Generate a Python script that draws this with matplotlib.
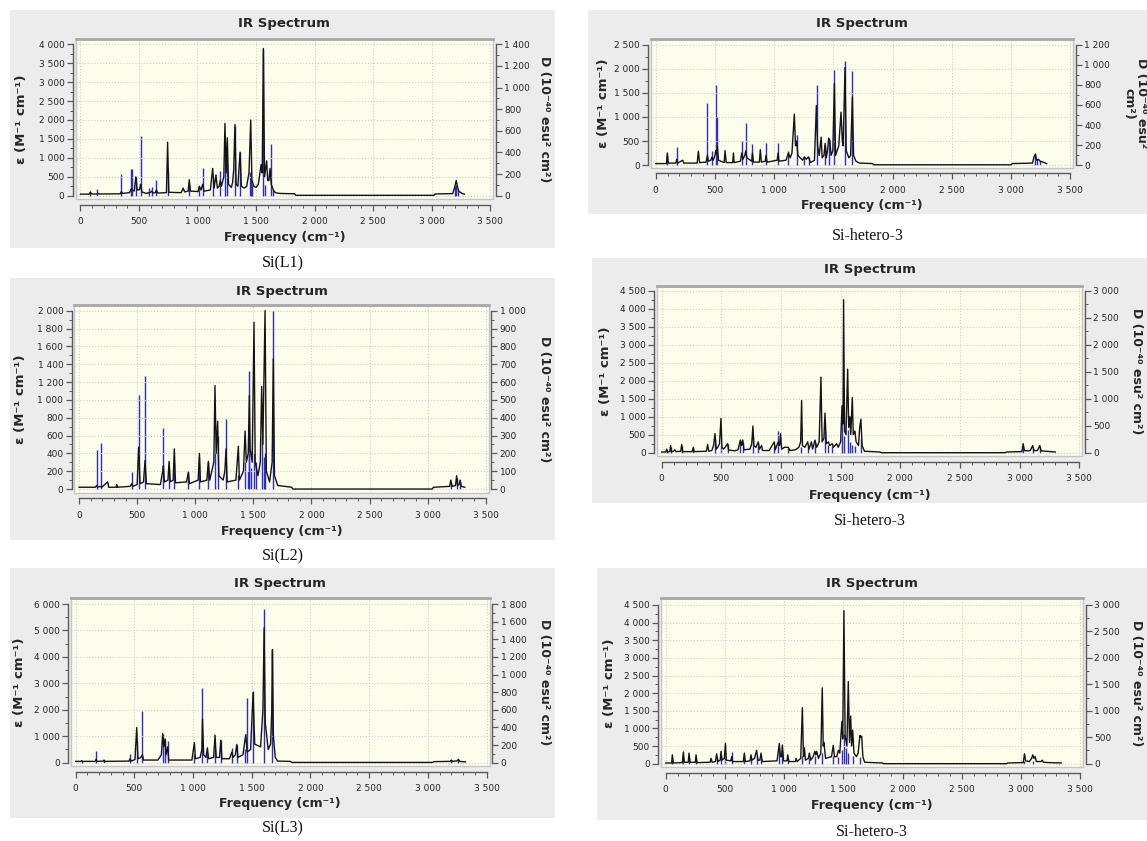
import matplotlib
matplotlib.use("Agg")
import matplotlib.pyplot as plt
from matplotlib.patches import Rectangle
from matplotlib.ticker import MultipleLocator, FuncFormatter

W, H = 1147, 841

# ---- values ----
# broadened curve vertices: (frequency cm-1, epsilon)
# sticks: (frequency cm-1, D in 1e-40 esu^2 cm^2)

l1_curve = [(0, 40), (75, 40), (86, 100), (95, 45), (140, 45), (150, 60), (160, 45), (340, 50),
            (351, 110), (360, 60), (420, 80), (435, 180), (445, 150), (460, 120), (474, 500),
            (485, 150), (505, 160), (514, 300), (525, 100), (560, 60), (600, 90), (610, 120),
            (620, 70), (640, 80), (650, 150), (660, 70), (735, 80), (745, 1410), (755, 90),
            (860, 80), (878, 200), (890, 100), (920, 120), (930, 420), (940, 120), (1005, 110),
            (1016, 250), (1030, 150), (1044, 300), (1055, 120), (1110, 150), (1130, 720),
            (1142, 200), (1158, 550), (1170, 200), (1185, 250), (1195, 400), (1205, 250),
            (1225, 500), (1235, 1910), (1245, 600), (1255, 1530), (1265, 300), (1290, 220),
            (1300, 350), (1310, 700), (1320, 1880), (1330, 300), (1345, 250), (1364, 1150),
            (1375, 250), (1400, 200), (1420, 250), (1440, 600), (1455, 2000), (1465, 400),
            (1480, 250), (1500, 220), (1520, 300), (1543, 820), (1553, 600), (1563, 3890),
            (1573, 500), (1591, 920), (1600, 400), (1610, 400), (1620, 720), (1630, 300),
            (1648, 150), (1665, 80), (1700, 60), (1830, 50), (1840, 10), (3020, 10), (3030, 45),
            (3180, 55), (3195, 200), (3210, 400), (3220, 250), (3230, 120), (3260, 60), (3280, 40)]
l1_sticks = [(86, 35), (143, 65), (351, 200), (430, 250), (445, 250), (474, 175), (514, 555),
             (582, 70), (608, 80), (650, 145), (745, 230), (930, 100), (1016, 80), (1044, 260),
             (1130, 150), (1195, 225), (1235, 500), (1255, 300), (1320, 640), (1364, 400),
             (1445, 215), (1455, 140), (1460, 150), (1470, 100), (1563, 1360), (1580, 100),
             (1628, 480), (1648, 50), (3200, 90), (3212, 100), (3222, 60)]

h1a_curve = [(0, 30), (90, 30), (98, 250), (106, 40), (170, 40), (177, 120), (185, 40), (228, 100),
             (236, 40), (350, 40), (360, 290), (370, 50), (425, 60), (436, 200), (445, 80),
             (465, 100), (473, 160), (485, 100), (500, 200), (506, 300), (513, 230), (520, 400),
             (530, 100), (578, 50), (585, 300), (595, 50), (650, 50), (656, 250), (662, 50),
             (715, 80), (726, 250), (736, 120), (752, 200), (760, 300), (770, 150), (810, 80),
             (816, 250), (825, 60), (875, 60), (883, 320), (892, 60), (925, 80), (931, 200),
             (940, 60), (1025, 100), (1033, 250), (1040, 80), (1100, 100), (1120, 250),
             (1135, 150), (1150, 250), (1170, 1060), (1180, 400), (1190, 500), (1200, 200),
             (1240, 100), (1255, 170), (1270, 120), (1290, 170), (1305, 50), (1340, 100),
             (1356, 1240), (1366, 400), (1380, 200), (1396, 580), (1405, 150), (1420, 200),
             (1430, 450), (1440, 150), (1450, 300), (1460, 560), (1470, 500), (1480, 200),
             (1495, 300), (1508, 1700), (1518, 200), (1545, 400), (1564, 1100), (1575, 500),
             (1582, 400), (1598, 2030), (1608, 300), (1630, 150), (1645, 200), (1660, 1420),
             (1670, 200), (1690, 80), (1720, 40), (1830, 30), (1840, 5), (3000, 5), (3010, 30),
             (3180, 40), (3195, 180), (3205, 230), (3215, 100), (3230, 120), (3245, 80),
             (3270, 60), (3300, 30)]
h1a_sticks = [(98, 100), (177, 178), (436, 617), (473, 145), (506, 800), (520, 480), (726, 240),
              (760, 418), (816, 206), (931, 216), (1033, 216), (1120, 144), (1190, 302),
              (1255, 80), (1290, 80), (1365, 797), (1430, 200), (1465, 270), (1508, 950),
              (1598, 1037), (1660, 940), (3200, 100), (3215, 60), (3240, 40)]

l2_curve = [(0, 20), (140, 20), (152, 40), (160, 20), (182, 30), (195, 20), (247, 80), (255, 20),
            (320, 20), (324, 50), (330, 20), (440, 30), (453, 60), (462, 30), (500, 50),
            (513, 470), (525, 60), (555, 80), (568, 320), (580, 60), (700, 50), (720, 200),
            (726, 260), (735, 80), (765, 100), (775, 310), (785, 80), (810, 100), (820, 450),
            (830, 70), (925, 80), (941, 190), (950, 60), (1025, 100), (1036, 400), (1045, 80),
            (1100, 100), (1113, 310), (1125, 100), (1160, 300), (1170, 1160), (1180, 400),
            (1193, 760), (1203, 150), (1240, 100), (1255, 200), (1265, 450), (1275, 80),
            (1350, 100), (1371, 480), (1380, 100), (1415, 200), (1429, 650), (1440, 300),
            (1456, 400), (1466, 1050), (1472, 460), (1490, 300), (1506, 1870), (1516, 300),
            (1540, 150), (1560, 300), (1572, 1150), (1582, 500), (1601, 2000), (1612, 200),
            (1640, 80), (1662, 300), (1672, 1460), (1682, 150), (1710, 40), (1830, 20),
            (1840, 0), (3040, 0), (3050, 20), (3190, 30), (3200, 100), (3210, 30), (3240, 40),
            (3250, 150), (3258, 40), (3270, 50), (3280, 100), (3290, 30), (3320, 20)]
l2_sticks = [(152, 220), (186, 260), (453, 95), (513, 525), (568, 635), (726, 345), (775, 120),
             (820, 150), (941, 95), (1036, 180), (1113, 150), (1170, 200), (1193, 300),
             (1265, 390), (1371, 80), (1429, 150), (1450, 100), (1460, 300), (1466, 660),
             (1480, 120), (1506, 200), (1520, 150), (1572, 300), (1590, 180), (1601, 200),
             (1672, 1000), (3200, 40), (3250, 60), (3280, 40)]

h1b_curve = [(0, 20), (35, 20), (42, 100), (50, 20), (68, 30), (75, 200), (82, 30), (100, 40),
             (110, 80), (120, 30), (160, 40), (168, 230), (176, 30), (255, 30), (265, 150),
             (272, 30), (375, 40), (385, 230), (395, 40), (420, 60), (435, 200), (447, 530),
             (457, 100), (470, 150), (485, 250), (497, 950), (505, 150), (520, 100), (553, 250),
             (560, 80), (610, 50), (640, 80), (660, 350), (670, 200), (680, 350), (690, 80),
             (740, 100), (755, 250), (765, 740), (772, 200), (790, 150), (810, 300), (820, 100),
             (838, 200), (845, 60), (900, 60), (944, 300), (952, 80), (970, 250), (978, 300),
             (988, 200), (997, 530), (1005, 100), (1030, 150), (1061, 150), (1075, 60),
             (1120, 80), (1150, 150), (1165, 300), (1173, 1450), (1180, 200), (1200, 150),
             (1224, 300), (1235, 100), (1255, 300), (1265, 100), (1285, 350), (1300, 150),
             (1320, 300), (1335, 2100), (1345, 300), (1360, 400), (1369, 1100), (1380, 250),
             (1397, 300), (1410, 200), (1430, 250), (1440, 150), (1466, 250), (1480, 150),
             (1500, 300), (1512, 1300), (1520, 800), (1525, 4250), (1533, 600), (1545, 500),
             (1559, 2320), (1568, 700), (1578, 1000), (1585, 500), (1598, 1530), (1606, 500),
             (1620, 600), (1630, 300), (1650, 200), (1660, 700), (1670, 930), (1680, 200),
             (1700, 40), (1830, 20), (1840, 0), (2880, 0), (2890, 20), (3020, 30), (3030, 250),
             (3040, 60), (3070, 50), (3090, 60), (3110, 200), (3120, 60), (3150, 60), (3170, 200),
             (3180, 50), (3220, 40), (3300, 20)]
h1b_sticks = [(42, 50), (75, 100), (168, 120), (265, 80), (447, 250), (497, 150), (553, 160),
              (660, 230), (680, 200), (765, 300), (810, 150), (944, 120), (978, 400), (1061, 80),
              (1165, 100), (1224, 130), (1285, 180), (1369, 400), (1397, 150), (1430, 120),
              (1512, 870), (1525, 300), (1559, 420), (1578, 200), (1598, 150), (1620, 130),
              (1670, 250), (3030, 100), (3110, 80), (3170, 80)]

l3_curve = [(0, 50), (45, 50), (51, 80), (58, 50), (165, 50), (173, 120), (182, 50), (235, 60),
            (241, 100), (248, 50), (455, 60), (463, 150), (472, 60), (505, 120), (520, 1330),
            (530, 150), (555, 200), (568, 300), (578, 100), (700, 100), (730, 300), (741, 1100),
            (750, 600), (761, 900), (770, 300), (784, 600), (792, 100), (990, 100), (1011, 760),
            (1020, 150), (1060, 200), (1075, 500), (1080, 1650), (1090, 300), (1110, 200),
            (1122, 560), (1132, 150), (1175, 200), (1187, 1040), (1197, 200), (1225, 200),
            (1236, 850), (1245, 150), (1310, 150), (1330, 400), (1340, 200), (1360, 300),
            (1372, 690), (1382, 200), (1425, 300), (1440, 800), (1449, 1060), (1460, 400),
            (1490, 500), (1511, 2650), (1525, 700), (1575, 600), (1595, 2000), (1605, 5100),
            (1615, 1500), (1640, 500), (1660, 700), (1670, 1900), (1676, 4280), (1684, 1000),
            (1700, 200), (1720, 60), (1830, 50), (1840, 10), (3040, 10), (3050, 40), (3190, 50),
            (3200, 100), (3210, 50), (3250, 70), (3260, 130), (3270, 50), (3320, 30)]
l3_sticks = [(51, 20), (173, 132), (241, 25), (463, 100), (520, 250), (568, 582), (741, 330),
             (761, 270), (784, 250), (1011, 100), (1080, 850), (1122, 100), (1187, 150),
             (1236, 255), (1330, 165), (1372, 200), (1440, 150), (1463, 738), (1511, 810),
             (1605, 1740), (1676, 1250), (3200, 30), (3260, 40)]

h1c_curve = [(0, 20), (50, 20), (56, 250), (64, 20), (140, 30), (149, 330), (157, 40), (190, 40),
             (197, 300), (205, 40), (250, 40), (256, 250), (264, 30), (375, 40), (383, 150),
             (392, 40), (420, 60), (430, 280), (440, 60), (460, 100), (467, 350), (475, 100),
             (495, 150), (504, 580), (512, 100), (550, 80), (557, 200), (565, 60), (655, 60),
             (664, 300), (672, 60), (712, 80), (720, 250), (728, 100), (750, 150), (768, 380),
             (778, 100), (795, 100), (805, 300), (815, 60), (940, 80), (959, 570), (968, 200),
             (978, 200), (985, 530), (995, 80), (1025, 80), (1030, 250), (1040, 60), (1095, 60),
             (1100, 150), (1110, 60), (1140, 150), (1154, 1590), (1163, 200), (1171, 450),
             (1180, 100), (1205, 150), (1213, 300), (1225, 100), (1245, 200), (1260, 350),
             (1268, 250), (1275, 350), (1290, 150), (1310, 300), (1322, 2150), (1330, 500),
             (1336, 600), (1350, 150), (1400, 200), (1415, 520), (1425, 200), (1445, 200),
             (1458, 380), (1470, 300), (1488, 1200), (1495, 700), (1505, 4340), (1515, 800),
             (1530, 500), (1542, 2330), (1552, 600), (1562, 1350), (1570, 500), (1579, 950),
             (1590, 300), (1610, 200), (1625, 300), (1640, 800), (1648, 750), (1655, 780),
             (1665, 200), (1680, 40), (1830, 20), (1840, 0), (2880, 0), (2890, 20), (3020, 30),
             (3030, 280), (3040, 80), (3070, 60), (3090, 150), (3100, 250), (3110, 150),
             (3120, 200), (3130, 60), (3170, 60), (3180, 100), (3190, 40), (3240, 30), (3340, 20)]
h1c_sticks = [(56, 80), (149, 120), (197, 100), (256, 80), (430, 100), (467, 150), (504, 150),
              (557, 230), (664, 80), (720, 100), (768, 150), (805, 100), (959, 300), (985, 250),
              (1030, 80), (1154, 150), (1213, 100), (1260, 150), (1322, 200), (1415, 150),
              (1458, 130), (1488, 250), (1505, 570), (1520, 300), (1542, 200), (1579, 150),
              (1640, 120), (3030, 60), (3100, 60)]

captions = ["Si(L1)", "Si-hetero-3", "Si(L2)", "Si-hetero-3", "Si(L3)", "Si-hetero-3"]
curves = [l1_curve, h1a_curve, l2_curve, h1b_curve, l3_curve, h1c_curve]
sticks = [l1_sticks, h1a_sticks, l2_sticks, h1b_sticks, l3_sticks, h1c_sticks]
# left axis: top tick, major step ; right axis: top tick, major step
eps_axis = [(4000, 500), (2500, 500), (2000, 200), (4500, 500), (6000, 1000), (4500, 500)]
d_axis = [(1400, 200), (1200, 200), (1000, 100), (3000, 500), (1800, 200), (3000, 500)]

# ---- layout (pixels) ----
layout = [
    dict(bg=(10, 10, 555, 248), frame=(75.7, 39, 493.1, 199.1), ylim=(-90, 4140),
         title=24, xlab=238, ylab=22, dlab=545, cap=263),
    dict(bg=(588, 10, 1147, 214), frame=(651, 39.2, 1073.3, 167.9), ylim=(-60, 2620),
         title=24, xlab=206, ylab=604, dlab=1135, cap=236),
    dict(bg=(10, 278, 555, 540), frame=(74.4, 304.9, 488.6, 492.6), ylim=(-40, 2065),
         title=291, xlab=532, ylab=21, dlab=545, cap=556),
    dict(bg=(592, 258, 1147, 503), frame=(656.9, 286, 1082.2, 456.3), ylim=(-100, 4630),
         title=270, xlab=495, ylab=605, dlab=1137, cap=521),
    dict(bg=(10, 568, 555, 818), frame=(71, 598.2, 489.5, 766.4), ylim=(-140, 6220),
         title=584, xlab=803, ylab=20, dlab=545, cap=828),
    dict(bg=(597, 568, 1147, 820), frame=(661, 598.3, 1083.1, 767.2), ylim=(-100, 4690),
         title=584, xlab=805, ylab=610, dlab=1137, cap=832),
]

BG = "#ececec"
PLOT_BG = "#fdfdec"
AXC = "#5a5a5a"
TXT = "#262626"
BLACK = "#141414"
BLUE = "#2b2bcf"


def spaced(v, pos):
    return f"{v:,.0f}".replace(",", " ")


def fx(px):
    return px / W


def fy(py):
    return 1 - py / H


fig = plt.figure(figsize=(W / 100, H / 100), dpi=100)
fig.patch.set_facecolor("white")

for i, lay in enumerate(layout):
    bl, bt, br, bb = lay["bg"]
    fig.add_artist(Rectangle((fx(bl), fy(bb)), (br - bl) / W, (bb - bt) / H,
                             transform=fig.transFigure, fc=BG, ec="none", zorder=-10))
    l, t, r, b = lay["frame"]
    ax = fig.add_axes([fx(l), fy(b), (r - l) / W, (b - t) / H])
    ax2 = ax.twinx()
    ax.set_zorder(ax2.get_zorder() + 1)
    ax.patch.set_visible(False)
    ax2.patch.set_visible(True)
    ax2.patch.set_facecolor(PLOT_BG)

    emax, estep = eps_axis[i]
    dmax, dstep = d_axis[i]
    y0, y1 = lay["ylim"]
    ax.set_xlim(-40, 3525)
    ax.set_ylim(y0, y1)
    ax2.set_ylim(y0 * dmax / emax, y1 * dmax / emax)

    # sticks (right axis) behind the broadened curve (left axis)
    sf = [s[0] for s in sticks[i]]
    sd = [s[1] for s in sticks[i]]
    ax2.vlines(sf, 0, sd, color=BLUE, lw=1.0)
    cf = [c[0] for c in curves[i]]
    ce = [c[1] for c in curves[i]]
    ax.plot(cf, ce, color=BLACK, lw=1.0)

    ax.xaxis.set_major_locator(MultipleLocator(500))
    ax.xaxis.set_minor_locator(MultipleLocator(100))
    ax.yaxis.set_major_locator(MultipleLocator(estep))
    ax.yaxis.set_minor_locator(MultipleLocator(estep / 2))
    ax2.yaxis.set_major_locator(MultipleLocator(dstep))
    ax2.yaxis.set_minor_locator(MultipleLocator(dstep / 2))
    for a in (ax.xaxis, ax.yaxis, ax2.yaxis):
        a.set_major_formatter(FuncFormatter(spaced))

    ax.grid(which="major", color="#cfcfcf", linestyle=":", linewidth=0.8)

    for s in ("top", "right"):
        ax.spines[s].set_visible(False)
    for s in ("top", "left", "bottom"):
        ax2.spines[s].set_visible(False)
    ax.spines["left"].set_position(("outward", 2))
    ax.spines["bottom"].set_position(("outward", 4))
    ax2.spines["right"].set_position(("outward", 2))
    ax.spines["bottom"].set_bounds(0, 3500)
    ax.spines["left"].set_bounds(0, emax)
    ax2.spines["right"].set_bounds(0, dmax)
    for sp in (ax.spines["left"], ax.spines["bottom"], ax2.spines["right"]):
        sp.set_color(AXC)
        sp.set_linewidth(1.0)

    ax.tick_params(axis="x", which="major", length=4, width=0.9, color=AXC,
                   labelsize=6.5, labelcolor=TXT, pad=5)
    ax.tick_params(axis="x", which="minor", length=2.5, width=0.7, color=AXC)
    ax.tick_params(axis="y", which="major", length=4, width=0.9, color=AXC,
                   labelsize=6.5, labelcolor=TXT, pad=2)
    ax.tick_params(axis="y", which="minor", length=2.5, width=0.7, color=AXC)
    ax2.tick_params(axis="y", which="major", length=4, width=0.9, color=AXC,
                    labelsize=6.5, labelcolor=TXT, pad=2)
    ax2.tick_params(axis="y", which="minor", length=2.5, width=0.7, color=AXC)

    # plot-area frame
    ax.add_patch(Rectangle((0, 0), 1, 1, transform=ax.transAxes, fill=False,
                           ec="#c4c4c4", lw=1.0, clip_on=False))
    ax.plot([0, 1], [1, 1], transform=ax.transAxes, color="#a8a8a8", lw=2.0, clip_on=False)

    cx = (l + r) / 2
    cy = (t + b) / 2
    fig.text(fx(cx), fy(lay["title"]), "IR Spectrum", ha="center", va="center",
             fontsize=9.5, fontweight="bold", color=TXT)
    fig.text(fx(cx), fy(lay["xlab"]), "Frequency (cm\u207b\u00b9)", ha="center", va="center",
             fontsize=9, fontweight="bold", color=TXT)
    fig.text(fx(lay["ylab"]), fy(cy), "\u03b5 (M\u207b\u00b9 cm\u207b\u00b9)", ha="center",
             va="center", rotation=90, fontsize=9.5, fontweight="bold", color=TXT)
    dtext = "D (10\u207b\u2074\u2070 esu\u00b2 cm\u00b2)"
    if i == 1:
        dtext = "D (10\u207b\u2074\u2070 esu\u00b2\ncm\u00b2)"
    fig.text(fx(lay["dlab"]), fy(cy), dtext, ha="center", va="center", rotation=270,
             fontsize=9, fontweight="bold", color=TXT, linespacing=0.95)
    fig.text(fx((bl + br) / 2), fy(lay["cap"]), captions[i], ha="center", va="center",
             fontsize=11.5, family="Liberation Serif", color="#111111")

fig.savefig("out.png", dpi=100)
